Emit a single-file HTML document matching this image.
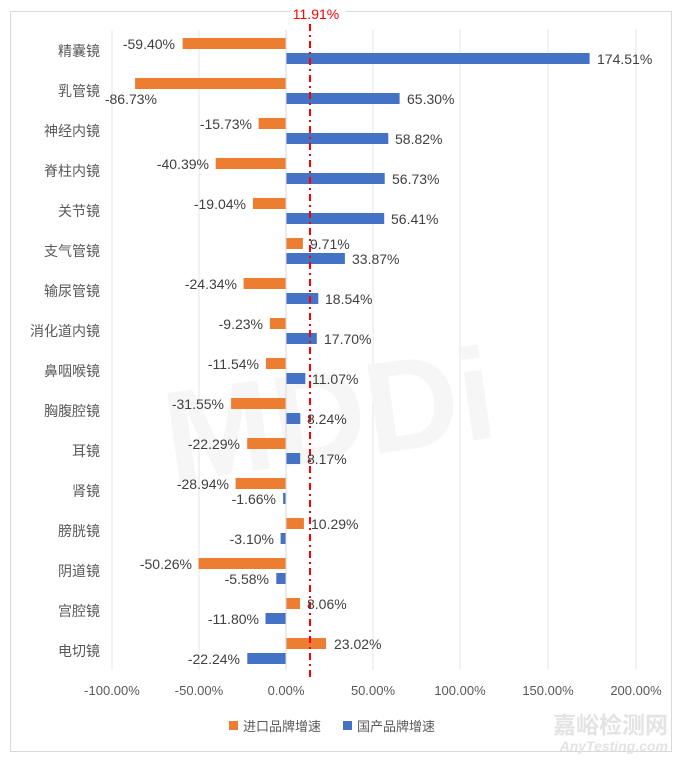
<!DOCTYPE html>
<html><head><meta charset="utf-8"><style>
body{margin:0;background:#fff;}
svg{display:block;font-family:"Liberation Sans","Noto Sans CJK SC",sans-serif;}
.c{font-size:14px;fill:#595959;text-anchor:end;}
.v{font-size:14px;fill:#404040;}
.n{text-anchor:end;}
.o{fill:#ED7D31;}.b{fill:#4472C4;}
.ax{font-size:13px;fill:#595959;text-anchor:middle;}
</style></head><body>
<svg width="680" height="762" viewBox="0 0 680 762">
<rect x="10.5" y="11.5" width="661" height="740" fill="#fff" stroke="#d9d9d9"/>
<rect x="290" y="4" width="56" height="20" fill="#fff"/>
<g stroke="#e6e6e6" stroke-width="1">
<line x1="112" y1="30" x2="112" y2="670"/><line x1="199" y1="30" x2="199" y2="670"/><line x1="373" y1="30" x2="373" y2="670"/><line x1="460" y1="30" x2="460" y2="670"/><line x1="548" y1="30" x2="548" y2="670"/><line x1="636" y1="30" x2="636" y2="670"/>
</g>
<text x="330" y="460" font-size="130" font-weight="bold" fill="#f6f6f6" text-anchor="middle" transform="rotate(-8 330 420)">MDDi</text>
<g>
<rect class="o" x="182.6" y="38" width="103.4" height="11"/><rect class="b" x="286" y="53" width="303.6" height="11"/>
<rect class="o" x="135.1" y="78" width="150.9" height="11"/><rect class="b" x="286" y="93" width="113.6" height="11"/>
<rect class="o" x="258.6" y="118" width="27.4" height="11"/><rect class="b" x="286" y="133" width="102.3" height="11"/>
<rect class="o" x="215.7" y="158" width="70.3" height="11"/><rect class="b" x="286" y="173" width="98.7" height="11"/>
<rect class="o" x="252.9" y="198" width="33.1" height="11"/><rect class="b" x="286" y="213" width="98.2" height="11"/>
<rect class="o" x="286" y="238" width="16.9" height="11"/><rect class="b" x="286" y="253" width="58.9" height="11"/>
<rect class="o" x="243.6" y="278" width="42.4" height="11"/><rect class="b" x="286" y="293" width="32.3" height="11"/>
<rect class="o" x="269.9" y="318" width="16.1" height="11"/><rect class="b" x="286" y="333" width="30.8" height="11"/>
<rect class="o" x="265.9" y="358" width="20.1" height="11"/><rect class="b" x="286" y="373" width="19.3" height="11"/>
<rect class="o" x="231.1" y="398" width="54.9" height="11"/><rect class="b" x="286" y="413" width="14.3" height="11"/>
<rect class="o" x="247.2" y="438" width="38.8" height="11"/><rect class="b" x="286" y="453" width="14.2" height="11"/>
<rect class="o" x="235.6" y="478" width="50.4" height="11"/><rect class="b" x="283.1" y="493" width="2.9" height="11"/>
<rect class="o" x="286" y="518" width="17.9" height="11"/><rect class="b" x="280.6" y="533" width="5.4" height="11"/>
<rect class="o" x="198.5" y="558" width="87.5" height="11"/><rect class="b" x="276.3" y="573" width="9.7" height="11"/>
<rect class="o" x="286" y="598" width="14.0" height="11"/><rect class="b" x="265.5" y="613" width="20.5" height="11"/>
<rect class="o" x="286" y="638" width="40.1" height="11"/><rect class="b" x="247.3" y="653" width="38.7" height="11"/>
</g>
<line x1="286" y1="30" x2="286" y2="670" stroke="#d9d9d9"/>
<line x1="310" y1="24" x2="310" y2="680" stroke="#ff0000" stroke-width="2" stroke-dasharray="7,4,2,4"/>
<text x="316" y="19" font-size="14" fill="#ff0000" text-anchor="middle">11.91%</text>
<g class="c">
<text x="100" y="56">精囊镜</text><text x="100" y="96">乳管镜</text><text x="100" y="136">神经内镜</text><text x="100" y="176">脊柱内镜</text>
<text x="100" y="216">关节镜</text><text x="100" y="256">支气管镜</text><text x="100" y="296">输尿管镜</text><text x="100" y="336">消化道内镜</text>
<text x="100" y="376">鼻咽喉镜</text><text x="100" y="416">胸腹腔镜</text><text x="100" y="456">耳镜</text><text x="100" y="496">肾镜</text>
<text x="100" y="536">膀胱镜</text><text x="100" y="576">阴道镜</text><text x="100" y="616">宫腔镜</text><text x="100" y="656">电切镜</text>
</g>
<g class="v">
<text class="n" x="175" y="49">-59.40%</text><text x="597" y="64">174.51%</text>
<text class="n" x="157" y="104">-86.73%</text><text x="407" y="104">65.30%</text>
<text class="n" x="252" y="129">-15.73%</text><text x="395" y="144">58.82%</text>
<text class="n" x="209" y="169">-40.39%</text><text x="392" y="184">56.73%</text>
<text class="n" x="246" y="209">-19.04%</text><text x="391" y="224">56.41%</text>
<text x="310" y="249">9.71%</text><text x="352" y="264">33.87%</text>
<text class="n" x="237" y="289">-24.34%</text><text x="325" y="304">18.54%</text>
<text class="n" x="263" y="329">-9.23%</text><text x="324" y="344">17.70%</text>
<text class="n" x="259" y="369">-11.54%</text><text x="312" y="384">11.07%</text>
<text class="n" x="224" y="409">-31.55%</text><text x="307" y="424">8.24%</text>
<text class="n" x="240" y="449">-22.29%</text><text x="307" y="464">8.17%</text>
<text class="n" x="229" y="489">-28.94%</text><text class="n" x="276" y="504">-1.66%</text>
<text x="311" y="529">10.29%</text><text class="n" x="274" y="544">-3.10%</text>
<text class="n" x="192" y="569">-50.26%</text><text class="n" x="269" y="584">-5.58%</text>
<text x="307" y="609">8.06%</text><text class="n" x="259" y="624">-11.80%</text>
<text x="334" y="649">23.02%</text><text class="n" x="240" y="664">-22.24%</text>
</g>
<g class="ax">
<text x="112" y="695">-100.00%</text><text x="199" y="695">-50.00%</text><text x="286" y="695">0.00%</text><text x="373" y="695">50.00%</text>
<text x="460" y="695">100.00%</text><text x="548" y="695">150.00%</text><text x="636" y="695">200.00%</text>
</g>
<rect x="229" y="721" width="9" height="9" fill="#ED7D31"/>
<text x="243" y="731" font-size="13" fill="#595959">进口品牌增速</text>
<rect x="343" y="721" width="9" height="9" fill="#4472C4"/>
<text x="357" y="731" font-size="13" fill="#595959">国产品牌增速</text>
<text x="668" y="733" font-size="23" font-weight="bold" fill="#e3e3e3" text-anchor="end">嘉峪检测网</text>
<text x="668" y="751" font-size="14" font-style="italic" font-weight="bold" fill="#e3e3e3" text-anchor="end">AnyTesting.com</text>
</svg>
</body></html>
